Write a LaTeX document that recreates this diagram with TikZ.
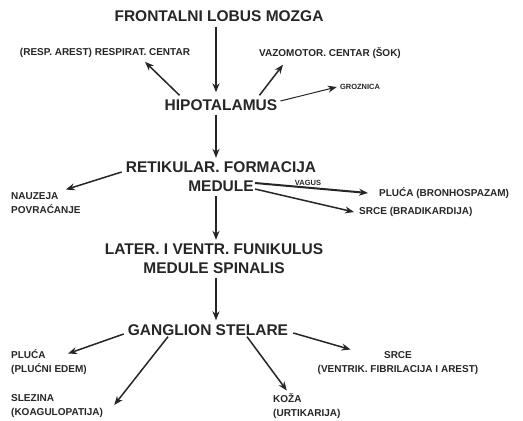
\documentclass[tikz,border=0pt]{standalone}
\usepackage{fontspec}
\setmainfont{Liberation Sans}
\usetikzlibrary{arrows.meta,calc}
\begin{document}
\begin{tikzpicture}[x=1pt,y=-1pt,
  big/.style={font=\bfseries\fontsize{15.5}{19}\selectfont, inner sep=1pt, align=center, text=black!85},
  small/.style={font=\bfseries\fontsize{10}{13.5}\selectfont, inner sep=1pt, align=left, text=black!85},
  tiny/.style={font=\bfseries\fontsize{7.5}{9}\selectfont, inner sep=1pt, text=black!85},
  arr/.style={-{Stealth[length=9pt,width=7pt]}, line width=1.5pt, draw=black!85}]
\useasboundingbox[fill=white] (0,0) rectangle (523,421);
\coordinate (axis) at (216,0);
\node[big] (front) at (219,16) {FRONTALNI LOBUS MOZGA};
\node[small] (resp) at (105,53) {(RESP. AREST) RESPIRAT. CENTAR};
\node[small] (vazo) at (330,53) {VAZOMOTOR. CENTAR (ŠOK)};
\node[big] (hip) at (221,105) {HIPOTALAMUS};
\node[tiny] (groz) at (360,87) {GROZNICA};
\node[big] (ret) at (221,177) {RETIKULAR. FORMACIJA\\MEDULE};
\node[small, anchor=west] (nauz) at (10,203) {NAUZEJA\\POVRAĆANJE};
\node[small, anchor=west] (pluv) at (378,193) {PLUĆA (BRONHOSPAZAM)};
\node[small, anchor=west] (srcv) at (358,212) {SRCE (BRADIKARDIJA)};
\node[tiny] (vag) at (308,183) {VAGUS};
\coordinate (vagstart) at (255,186);
\node[big] (lat) at (214,259) {LATER. I VENTR. FUNIKULUS\\MEDULE SPINALIS};
\node[big] (gang) at (208,330) {GANGLION STELARE};
\node[small, anchor=west] (plu2) at (10,362) {PLUĆA\\(PLUĆNI EDEM)};
\node[small, anchor=west] (slez) at (10,406) {SLEZINA\\(KOAGULOPATIJA)};
\node[small, anchor=west] (koza) at (272,406) {KOŽA\\(URTIKARIJA)};
\node[small, align=center] (srce2) at (398,363) {SRCE\\(VENTRIK. FIBRILACIJA I AREST)};

\draw[arr, shorten <=4pt, shorten >=6pt] (front.south -| axis) -- (hip.north -| axis);
\draw[arr] ($(hip.north west)+(16,-3)$) -- ($(resp.south)+(40,3)$);
\draw[arr] ($(hip.north east)+(-19,-3)$) -- ($(vazo.south)+(-47,5)$);
\draw[arr, line width=1pt] ($(hip.east)+(2,-4)$) -- ($(groz.west)+(-2,0)$);
\draw[arr, shorten <=3pt, shorten >=3pt] (hip.south -| axis) -- (ret.north -| axis);
\draw[arr] ($(ret.west)+(-3,-5)$) -- ($(nauz.north east)+(-16,-2)$);
\draw[arr, line width=2pt] ([yshift=3pt]vagstart) -- ($(pluv.west)+(-10,0)$);
\draw[arr] ([yshift=-3pt]vagstart) -- ($(srcv.west)+(-4,0)$);
\draw[arr, shorten <=3pt, shorten >=3pt] (ret.south -| axis) -- (lat.north -| axis);
\draw[arr, shorten <=3pt, shorten >=3pt] (lat.south -| axis) -- (gang.north -| axis);
\draw[arr] ($(gang.west)+(-3,4)$) -- ($(plu2.north west)+(58,5)$);
\draw[arr] ($(gang.south)+(-40,0)$) -- ($(slez.east)+(10,-1)$);
\draw[arr] ($(gang.south)+(39,0)$) -- ($(koza.north)+(-20,-2)$);
\draw[arr] ($(gang.east)+(4,3)$) -- ($(srce2.north west)+(34,-1)$);
\end{tikzpicture}
\end{document}
